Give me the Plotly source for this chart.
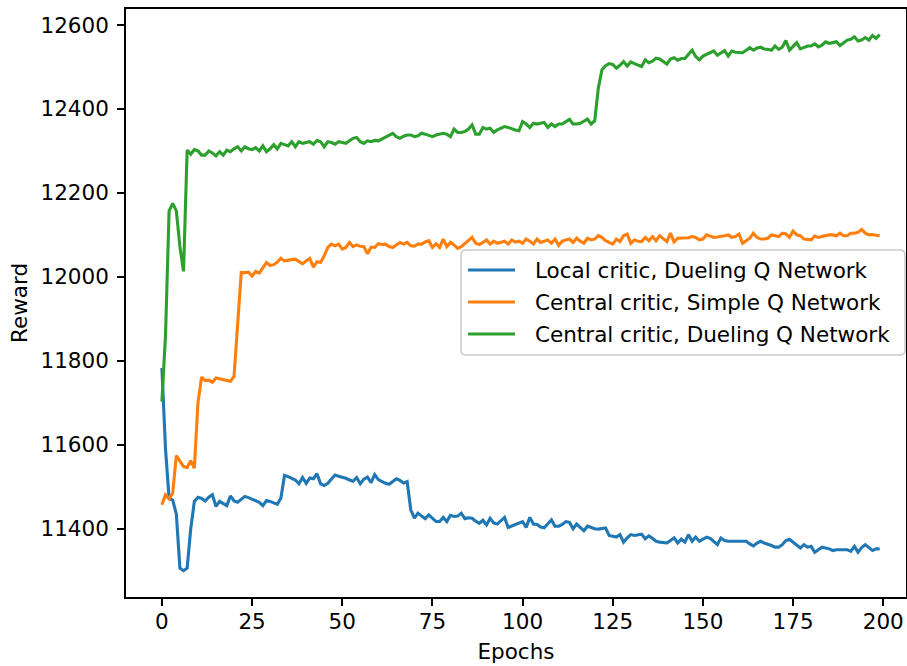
import plotly.graph_objects as go

epochs = list(range(200))

local_dueling = [
    11783, 11590, 11472, 11468, 11435, 11306, 11300, 11306, 11400, 11465,
    11475, 11472, 11466, 11475, 11481, 11453, 11465, 11460, 11455, 11478,
    11466, 11463, 11470, 11477, 11474, 11470, 11467, 11463, 11455, 11467,
    11465, 11462, 11458, 11473, 11527, 11524, 11520, 11516, 11507, 11522,
    11508, 11521, 11519, 11531, 11507, 11503, 11508, 11518, 11528, 11525,
    11523, 11520, 11516, 11513, 11522, 11507, 11518, 11523, 11510, 11529,
    11517, 11512, 11508, 11506, 11512, 11519, 11515, 11509, 11512, 11445,
    11425, 11437, 11430, 11424, 11433, 11425, 11417, 11417, 11427, 11417,
    11432, 11429, 11430, 11437, 11424, 11426, 11425, 11418, 11413, 11420,
    11409, 11425, 11414, 11411, 11418, 11427, 11403, 11407, 11409, 11413,
    11417, 11403, 11427, 11411, 11410, 11404, 11402, 11412, 11421, 11406,
    11406, 11410, 11417, 11415, 11400, 11411, 11404, 11395, 11406, 11402,
    11400, 11399, 11401, 11402, 11384, 11382, 11380, 11386, 11368, 11378,
    11386, 11384, 11386, 11387, 11376, 11383, 11377, 11370, 11368, 11367,
    11366, 11372, 11378, 11366, 11375, 11368, 11386, 11370, 11380, 11370,
    11374, 11380, 11377, 11370, 11362, 11378, 11372, 11370, 11370, 11370,
    11370, 11370, 11370, 11364, 11359, 11366, 11370, 11366, 11362, 11360,
    11356, 11356, 11362, 11372, 11375, 11368, 11360, 11354, 11362, 11356,
    11358, 11344, 11350, 11356, 11354, 11352, 11348, 11350, 11350, 11350,
    11350, 11346, 11358, 11344, 11355, 11362, 11356, 11348, 11352, 11352,
]

central_simple = [
    11457, 11481, 11471, 11485, 11574, 11560, 11548, 11546, 11562, 11544,
    11700, 11761, 11753, 11754, 11749, 11759, 11757, 11755, 11753, 11751,
    11763, 11900, 12010, 12010, 12011, 12002, 12013, 12009, 12020, 12034,
    12027, 12029, 12035, 12044, 12038, 12040, 12041, 12042, 12036, 12031,
    12038, 12044, 12023, 12036, 12034, 12050, 12070, 12078, 12074, 12078,
    12066, 12070, 12082, 12072, 12076, 12073, 12072, 12055, 12071, 12070,
    12079, 12077, 12078, 12072, 12070, 12075, 12082, 12078, 12082, 12074,
    12073, 12078, 12078, 12083, 12086, 12070, 12079, 12070, 12090, 12072,
    12082, 12076, 12068, 12072, 12080, 12086, 12094, 12080, 12077, 12082,
    12088, 12078, 12085, 12080, 12082, 12085, 12078, 12088, 12083, 12085,
    12080, 12090, 12085, 12078, 12090, 12082, 12085, 12088, 12080, 12090,
    12075, 12085, 12088, 12090, 12082, 12092, 12085, 12080, 12092, 12088,
    12090, 12098, 12094, 12086, 12082, 12078, 12090, 12084, 12098, 12102,
    12080, 12088, 12085, 12084, 12094, 12086, 12096, 12086, 12098, 12090,
    12084, 12104, 12083, 12092, 12092, 12092, 12093, 12096, 12094, 12088,
    12090, 12100, 12096, 12094, 12095, 12096, 12098, 12100, 12094, 12096,
    12102, 12080, 12086, 12092, 12104, 12094, 12090, 12090, 12092, 12100,
    12098, 12096, 12104, 12102, 12094, 12109, 12100, 12098, 12090, 12089,
    12088, 12097, 12094, 12096, 12098, 12100, 12100, 12098, 12104, 12098,
    12098, 12104, 12104, 12106, 12113, 12104, 12100, 12101, 12099, 12098,
]

central_dueling = [
    11703, 11860, 12157, 12175, 12157, 12072, 12013, 12302, 12292, 12303,
    12300, 12290, 12290, 12300, 12295, 12288, 12298, 12290, 12302, 12298,
    12305, 12310, 12300, 12310, 12305, 12303, 12308, 12300, 12312, 12298,
    12305, 12315, 12305, 12318, 12315, 12312, 12322, 12310, 12322, 12318,
    12320, 12322, 12316, 12325, 12322, 12310, 12322, 12320, 12316, 12322,
    12320, 12318, 12324, 12330, 12332, 12322, 12318, 12324, 12322, 12325,
    12324, 12328, 12334, 12336, 12342, 12334, 12330, 12335, 12338, 12338,
    12334, 12336, 12342, 12340, 12336, 12334, 12338, 12340, 12342, 12340,
    12334, 12352, 12344, 12344, 12346, 12352, 12362, 12340, 12340, 12356,
    12352, 12354, 12344, 12350, 12354, 12358, 12356, 12352, 12350, 12348,
    12370, 12364, 12356, 12366, 12364, 12366, 12368, 12356, 12364, 12358,
    12364, 12364, 12370, 12375, 12364, 12364, 12366, 12370, 12376, 12364,
    12372, 12450, 12493, 12503, 12508, 12506, 12497, 12504, 12513, 12502,
    12512, 12508, 12504, 12501, 12517, 12510, 12514, 12521, 12519, 12514,
    12507, 12519, 12522, 12516, 12520, 12520, 12530, 12540, 12525, 12517,
    12526, 12530, 12533, 12538, 12528, 12534, 12539, 12526, 12538, 12535,
    12535, 12534, 12540, 12546, 12540, 12545, 12547, 12543, 12542, 12540,
    12550, 12542, 12547, 12563, 12540, 12550, 12558, 12543, 12547, 12550,
    12550, 12555, 12548, 12552, 12560, 12556, 12558, 12560, 12551, 12558,
    12564, 12566, 12572, 12562, 12564, 12570, 12564, 12575, 12568, 12577,
]

series_names = [
    "Local critic, Dueling Q Network",
    "Central critic, Simple Q Network",
    "Central critic, Dueling Q Network",
]
series_colors = ["#1f77b4", "#ff7f0e", "#2ca02c"]
x_ticks = [0, 25, 50, 75, 100, 125, 150, 175, 200]
y_ticks = [11400, 11600, 11800, 12000, 12200, 12400, 12600]

FONT = "DejaVu Sans"
FS = 21.5
LW = 3.1

# plot area in window pixels
PX0, PX1, PY0, PY1 = 126, 906, 9, 597


def px(xp):
    return (xp - PX0) / (PX1 - PX0)


def py(yp):
    return (PY1 - yp) / (PY1 - PY0)


fig = go.Figure()
for name, vals, col in zip(series_names, [local_dueling, central_simple, central_dueling], series_colors):
    fig.add_trace(go.Scatter(x=epochs, y=vals, mode="lines", name=name,
                             line=dict(color=col, width=LW), showlegend=False))

axis_common = dict(
    showgrid=False, zeroline=False, showline=True, mirror=True,
    linecolor="black", linewidth=1.6, ticks="outside", ticklen=7,
    tickwidth=1.6, tickcolor="black", automargin=False,
    tickfont=dict(family=FONT, size=FS, color="black"),
)
fig.update_xaxes(range=[-9.95, 206.3], tickvals=x_ticks, tickformat="d",
                 ticklabelstandoff=-3,
                 title=dict(text="Epochs", font=dict(family=FONT, size=FS, color="black"), standoff=11),
                 **axis_common)
fig.update_yaxes(range=[11237.3, 12638.1], tickvals=y_ticks, tickformat="d",
                 ticklabelstandoff=4,
                 title=dict(text="Reward", font=dict(family=FONT, size=FS, color="black"), standoff=7),
                 **axis_common)

# legend box (matplotlib-style, rounded corners)
bx0, bx1, by0, by1 = 461, 905, 250, 355
r = 5
rx, ry = r / (PX1 - PX0), r / (PY1 - PY0)
X0, X1, Y0, Y1 = px(bx0), px(bx1), py(by1), py(by0)
path = (f"M{X0+rx},{Y0} L{X1-rx},{Y0} Q{X1},{Y0} {X1},{Y0+ry} "
        f"L{X1},{Y1-ry} Q{X1},{Y1} {X1-rx},{Y1} L{X0+rx},{Y1} "
        f"Q{X0},{Y1} {X0},{Y1-ry} L{X0},{Y0+ry} Q{X0},{Y0} {X0+rx},{Y0} Z")
shapes = [dict(type="path", path=path, xref="paper", yref="paper",
               fillcolor="rgba(255,255,255,0.8)", line=dict(color="#cccccc", width=1.6),
               layer="above")]
annotations = []
entry_y = [270, 302, 334]
for name, col, ey in zip(series_names, series_colors, entry_y):
    shapes.append(dict(type="line", xref="paper", yref="paper",
                       x0=px(468), x1=px(515), y0=py(ey), y1=py(ey),
                       line=dict(color=col, width=LW), layer="above"))
    annotations.append(dict(x=px(533), y=py(ey), xref="paper", yref="paper",
                            text=name, showarrow=False, xanchor="left", yanchor="middle",
                            font=dict(family=FONT, size=FS, color="black")))

fig.update_layout(
    width=907, height=666,
    margin=dict(l=PX0, r=907 - PX1, t=PY0, b=666 - PY1),
    paper_bgcolor="white", plot_bgcolor="white",
    font=dict(family=FONT, size=FS, color="black"),
    showlegend=False,
    shapes=shapes, annotations=annotations,
)

fig.write_html("out.html",
               config={"displayModeBar": False},
               post_script="document.body.style.margin='0px';document.body.style.overflow='hidden';")
